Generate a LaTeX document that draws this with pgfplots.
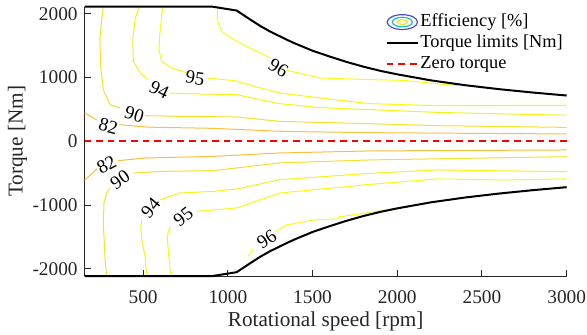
\documentclass[border=0pt]{standalone}
\usepackage{fontspec}
\setmainfont{Liberation Serif}
\usepackage{pgfplots}
\pgfplotsset{compat=1.18}

% contour colours (parula, top of the scale)
\definecolor{c96}{rgb}{0.976,0.984,0.080}
\definecolor{c95}{rgb}{0.975,0.965,0.095}
\definecolor{c94}{rgb}{0.970,0.945,0.110}
\definecolor{c90}{rgb}{0.960,0.880,0.160}
\definecolor{c82}{rgb}{0.990,0.745,0.235}
\definecolor{axgray}{rgb}{0.15,0.15,0.15}
\definecolor{ellblue}{rgb}{0.30,0.30,0.85}
\definecolor{ellcyan}{rgb}{0.10,0.75,0.80}
\definecolor{ellyellow}{rgb}{0.95,0.90,0.10}

\pgfplotsset{cont/.style={line width=0.5bp, forget plot}}
\tikzset{clabel/.style={font=\fontsize{9.5}{11}\selectfont, inner sep=0pt}}

\begin{document}
\begin{tikzpicture}
\begin{axis}[
  scale only axis, width=241bp, height=134.65bp,
  xmin=155, xmax=3000, ymin=-2110, ymax=2110,
  axis lines*=left,
  axis line style={axgray, line width=0.5bp, -},
  tick align=inside, major tick length=3bp,
  tick style={axgray, line width=0.5bp},
  xtick={500,1000,1500,2000,2500,3000},
  xticklabels={500,1000,1500,2000,2500,3000},
  ytick={-2000,-1000,0,1000,2000},
  yticklabels={-2000,-1000,0,1000,2000},
  ticklabel style={font=\fontsize{9.7}{11}\selectfont, text=axgray},
  xticklabel style={anchor=north, inner sep=0pt, yshift=-7bp},
  yticklabel style={anchor=east, inner sep=0pt, xshift=-3.35bp},
  xlabel={Rotational speed [rpm]},
  ylabel={Torque [Nm]},
  label style={font=\fontsize{10.65}{12}\selectfont, text=axgray},
  xlabel style={at={([yshift=-25.25bp]axis description cs:0.5,0)}, anchor=base},
  ylabel style={at={([xshift=-31.05bp]axis description cs:0,0.5)}, anchor=base},
  clip=false,
  legend style={draw=none, fill=none,
    at={(axis description cs:0.6239,0.983)}, anchor=north west,
    inner sep=0pt, row sep=0pt,
    font=\fontsize{9.2}{10.4}\selectfont,
    nodes={inner sep=0.8bp, text height=6.6bp, text depth=2.2bp}},
  legend cell align=left,
  legend image code/.code={\draw[#1] (0bp,0bp) -- (15.5bp,0bp);},
]

% legend symbol for the efficiency contours
\addlegendimage{legend image code/.code={
  \draw[ellblue, line width=0.6bp] (7.75bp,0bp) ellipse (7.6bp and 3.7bp);
  \draw[ellcyan, line width=0.6bp] (7.75bp,0bp) ellipse (5bp and 2.4bp);
  \draw[ellyellow, line width=0.6bp] (7.75bp,0bp) ellipse (2.5bp and 1.2bp);}}
\addlegendentry{Efficiency [\%]}

% ---- efficiency contours, motoring side ----
\addplot[cont, c95] coordinates {(615,2110) (599,1703) (593,1437) (609,1254) (668,1150) (757,1072)};
\addplot[cont, c95] coordinates {(875,993) (1042,951) (1170,852) (1308,758) (1544,680) (1839,591) (2233,559) (2624,562) (3000,562)};
\addplot[cont, c94] coordinates {(476,2110) (452,1907) (439,1594) (442,1254) (482,1072) (530,967)};
\addplot[cont, c94] coordinates {(658,758) (816,743) (1052,732) (1190,653) (1308,591) (1544,528) (1839,497) (2234,454) (2624,430) (3000,410)};
\addplot[cont, c90] coordinates {(265,2110) (255,1907) (245,1594) (249,1175) (265,810) (304,575) (364,523)};
\addplot[cont, c90] coordinates {(511,403) (717,392) (1052,382) (1308,313) (1839,277) (2234,246) (3000,219)};
\addplot[cont, c82] coordinates {(155,445) (226,335)};
\addplot[cont, c82] coordinates {(358,262) (521,223) (914,204) (1308,157) (1839,136) (3000,116)};
\addplot[cont, c96] coordinates {(940,2110) (937,1907) (963,1724) (1052,1567) (1190,1385) (1249,1307)};
\addplot[cont, c96] coordinates {(1347,1113) (1544,993) (1839,967) (2035,956) (2233,904) (2360,873)};

% ---- efficiency contours, generating side ----
\addplot[cont, c82] coordinates {(155,-607) (198,-505) (228,-427)};
\addplot[cont, c82] coordinates {(352,-302) (521,-260) (914,-235) (1308,-182) (1839,-150) (3000,-135)};
\addplot[cont, c90] coordinates {(285,-2110) (275,-1854) (265,-1279) (269,-965) (285,-809) (304,-726)};
\addplot[cont, c90] coordinates {(442,-495) (618,-470) (914,-459) (1308,-338) (1839,-291) (3000,-240)};
\addplot[cont, c94] coordinates {(521,-2110) (511,-1802) (492,-1540) (486,-1332) (492,-1227)};
\addplot[cont, c94] coordinates {(599,-914) (717,-809) (914,-784) (1052,-746) (1308,-600) (1839,-501) (2234,-448) (3000,-475)};
\addplot[cont, c95] coordinates {(662,-2110) (648,-1697) (642,-1489) (658,-1341)};
\addplot[cont, c95] coordinates {(816,-1097) (1052,-1044) (1308,-809) (1839,-674) (2234,-589) (2624,-605) (3000,-589)};
\addplot[cont, c96] coordinates {(1120,-1802) (1148,-1697)};
\addplot[cont, c96] coordinates {(1278,-1415) (1347,-1310) (1504,-1232) (1642,-1216) (1662,-1180) (1839,-1113) (2035,-1035) (2150,-985)};

% contour labels
\node[clabel, rotate=-8]  at (axis cs:806,993)   {95};
\node[clabel, rotate=-25] at (axis cs:595,810)   {94};
\node[clabel, rotate=-17] at (axis cs:448,418)   {90};
\node[clabel, rotate=-15] at (axis cs:294,235)   {82};
\node[clabel, rotate=-30] at (axis cs:1298,1150) {96};
\node[clabel, rotate=28]  at (axis cs:284,-365)  {82};
\node[clabel, rotate=35]  at (axis cs:364,-600)  {90};
\node[clabel, rotate=50]  at (axis cs:544,-1044) {94};
\node[clabel, rotate=38]  at (axis cs:737,-1175) {95};
\node[clabel, rotate=33]  at (axis cs:1229,-1540) {96};

% torque limits
\addplot[black, line width=1bp] coordinates {
  (155,2110) (910,2110) (1052,2050) (1120,1930) (1190,1810) (1250,1720)
  (1308,1645) (1350,1590) (1400,1530) (1500,1420) (1600,1330) (1700,1245)
  (1800,1170) (1900,1105) (2000,1050) (2200,955) (2400,880) (2600,818)
  (2800,765) (3000,718)};
\addlegendentry{Torque limits [Nm]}
\addplot[black, line width=1bp, forget plot] coordinates {
  (155,-2110) (910,-2110) (1052,-2050) (1120,-1930) (1190,-1810) (1250,-1720)
  (1308,-1645) (1350,-1590) (1400,-1530) (1500,-1420) (1600,-1330) (1700,-1245)
  (1800,-1170) (1900,-1105) (2000,-1050) (2200,-955) (2400,-880) (2600,-818)
  (2800,-765) (3000,-718)};

% zero torque reference
\addplot[red, line width=1bp, dash pattern=on 3.3bp off 2.5bp] coordinates {(155,0) (3000,0)};
\addlegendentry{Zero torque}

\end{axis}
\pgfresetboundingbox
\path (-42.35bp,-29.5bp) rectangle (251.15bp,138bp);
\end{tikzpicture}
\end{document}
